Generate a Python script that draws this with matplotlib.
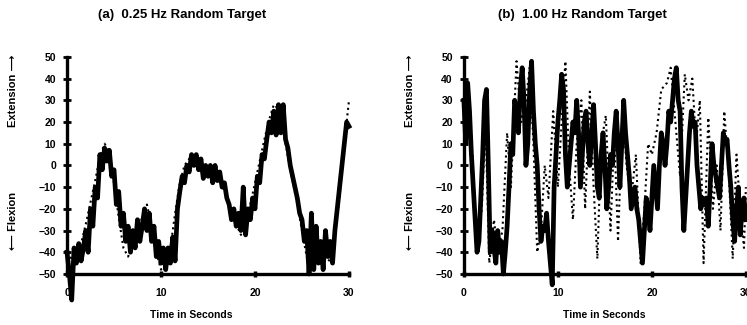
import numpy as np
import matplotlib
matplotlib.use("Agg")
import matplotlib.pyplot as plt

plt.rcParams['font.family'] = ['Liberation Sans', 'DejaVu Sans']
plt.rcParams['font.weight'] = 'bold'

# Panel (a): 0.25 Hz random target
t_tgt_a = np.linspace(0, 30, 61)
tgt_a = [-45, -42, -40, -36, -27, -17, -7, 4, 10, 6,
         -8, -24, -38, -42, -36, -30, -24, -18, -28, -40,
         -48, -46, -38, -22, -8, 0, 3, 6, 3, 0,
         -2, -4, -6, -9, -15, -21, -27, -32, -27, -18,
         -8, 2, 12, 21, 28, 26, 16, 4, -7, -18,
         -30, -42, -48, -44, -40, -43, -44, -32, -14, 10,
         30]

t_resp_a = np.linspace(0, 30, 121)
resp_a = [-40, -50, -62, -38, -45, -36, -44, -38, -30, -40,
          -20, -28, -10, -15, 5, -2, 8, 2, 7, -5,
          -2, -18, -12, -28, -22, -35, -28, -40, -30, -38,
          -25, -35, -28, -20, -30, -22, -35, -28, -42, -35,
          -45, -38, -48, -38, -45, -33, -44, -20, -12, -5,
          -8, 0, -3, 5, 0, 5, -2, 3, -6, 0,
          -5, 0, -8, 0, -7, -3, -10, -8, -15, -18,
          -25, -20, -28, -22, -30, -10, -32, -20, -25, -15,
          -20, -5, -8, 5, 3, 12, 20, 15, 25, 14,
          28, 15, 28, 12, 8, 0, -5, -10, -15, -22,
          -25, -35, -30, -50, -22, -48, -28, -45, -35, -48,
          -30, -42, -35, -45, -30, -20, -10, 0, 10, 20,
          18]

# Panel (b): 1.00 Hz random target
t_tgt_b = [0, 0.4, 0.9, 1.4, 1.9, 2.3, 2.7, 3.2, 3.6, 4.1, 4.6, 5.0, 5.6, 6.1,
           6.6, 7.0, 7.4, 7.8, 8.2, 8.6, 9.0, 9.5, 10.0, 10.4, 10.8, 11.2,
           11.6, 12.0, 12.5, 12.9, 13.4, 13.8, 14.2, 14.6, 15.1, 15.6, 16.0,
           16.4, 16.9, 17.3, 17.8, 18.3, 18.8, 19.2, 19.6, 20.0, 20.5, 21.0,
           21.6, 22.0, 22.5, 23.0, 23.5, 23.9, 24.3, 24.7, 25.1, 25.5, 26.0,
           26.5, 26.9, 27.3, 27.7, 28.2, 28.6, 29.0, 29.4, 29.8, 30.0]
tgt_b = [25, 30, 5, -40, -20, 20, -45, -25, -40, -30, 15, -10, 48, 20,
         30, 45, 10, -40, -30, 0, -15, 25, -10, 20, 48, 0,
         -25, 10, 30, -20, 34, -10, -43, 10, 23, -30, 15,
         -35, 28, 0, -15, 5, -45, -20, 10, 5, 15, 35,
         38, 45, 20, -5, 42, 30, 40, 10, 30, -45, 22,
         -20, 0, -30, 25, -5, -43, 5, -20, -38, -10]

t_resp_b = np.linspace(0, 30, 151)
resp_b = [30, 10, 38, 25, 5, -10, -25, -40, -35, -15,
          5, 30, 35, 0, -40, -30, -38, -45, -30, -40,
          -35, -50, -40, -28, -10, 10, 5, 30, 25, 15,
          35, 45, 30, 0, 10, 35, 48, 25, 10, 0,
          -20, -35, -28, -30, -22, -35, -45, -55, -10, 5,
          20, 30, 42, 35, 5, -10, 0, 10, 20, 15,
          30, 15, -10, 5, 20, 25, 10, 0, 15, 28,
          10, -10, -15, 5, 15, 0, -20, -10, 5, 0,
          15, 25, 10, -10, 10, 30, 15, 5, -5, -20,
          -15, -10, -20, -25, -35, -45, -30, -15, -20, -30,
          -15, 0, -10, -20, 0, 15, 10, 0, 10, 25,
          20, 30, 40, 45, 30, 25, -10, -30, -15, 0,
          15, 25, 18, 20, 0, -10, -20, -15, -18, -15,
          -28, -10, 10, 0, -5, -10, -15, 0, 15, 10,
          12, 0, -10, -25, -35, -20, -10, -32, -20, -15,
          -25]

fig = plt.figure(figsize=(7.47, 3.25), dpi=100)

panels = [
    (0.0897, "(a)  0.25 Hz Random Target", t_tgt_a, tgt_a, t_resp_a, resp_a, 0.256, 0.244),
    (0.621, "(b)  1.00 Hz Random Target", t_tgt_b, tgt_b, t_resp_b, resp_b, 0.809, 0.780),
]

for left, title, tt, tv, rt, rv, xlab_x, title_x in panels:
    ax = fig.add_axes([left, 0.157, 0.3775, 0.668])
    ax.plot(tt, tv, color='black', linestyle=':', linewidth=1.5, clip_on=False, zorder=3)
    ax.plot(rt, rv, color='black', linewidth=3.4, clip_on=False, zorder=2)
    ax.set_xlim(0, 30)
    ax.set_ylim(-50, 50)
    ax.set_xticks([0, 10, 20, 30])
    ax.set_yticks(range(-50, 51, 10))
    for s in ['top', 'right']:
        ax.spines[s].set_visible(False)
    for s in ['left', 'bottom']:
        ax.spines[s].set_linewidth(2.4)
    ax.tick_params(axis='y', direction='inout', length=6, width=2, labelsize=7.5, pad=5)
    ax.tick_params(axis='x', direction='inout', length=4, width=2.5, labelsize=7.5, pad=8)
    for lab in ax.get_xticklabels() + ax.get_yticklabels():
        lab.set_fontweight('bold')
    ax.patch.set_visible(False)

    fig.text(title_x, 0.954, title, ha='center', va='center', fontsize=9.5, fontweight='bold')
    fig.text(xlab_x, 0.03, "Time in Seconds", ha='center', va='center', fontsize=7.5, fontweight='bold')
    fig.text(left - 0.072, 0.72, "Extension \u27f6", rotation=90, ha='center', va='center',
             fontsize=8, fontweight='bold')
    fig.text(left - 0.072, 0.32, "\u27f5 Flexion", rotation=90, ha='center', va='center',
             fontsize=8, fontweight='bold')

fig.savefig("out.png", dpi=100)
